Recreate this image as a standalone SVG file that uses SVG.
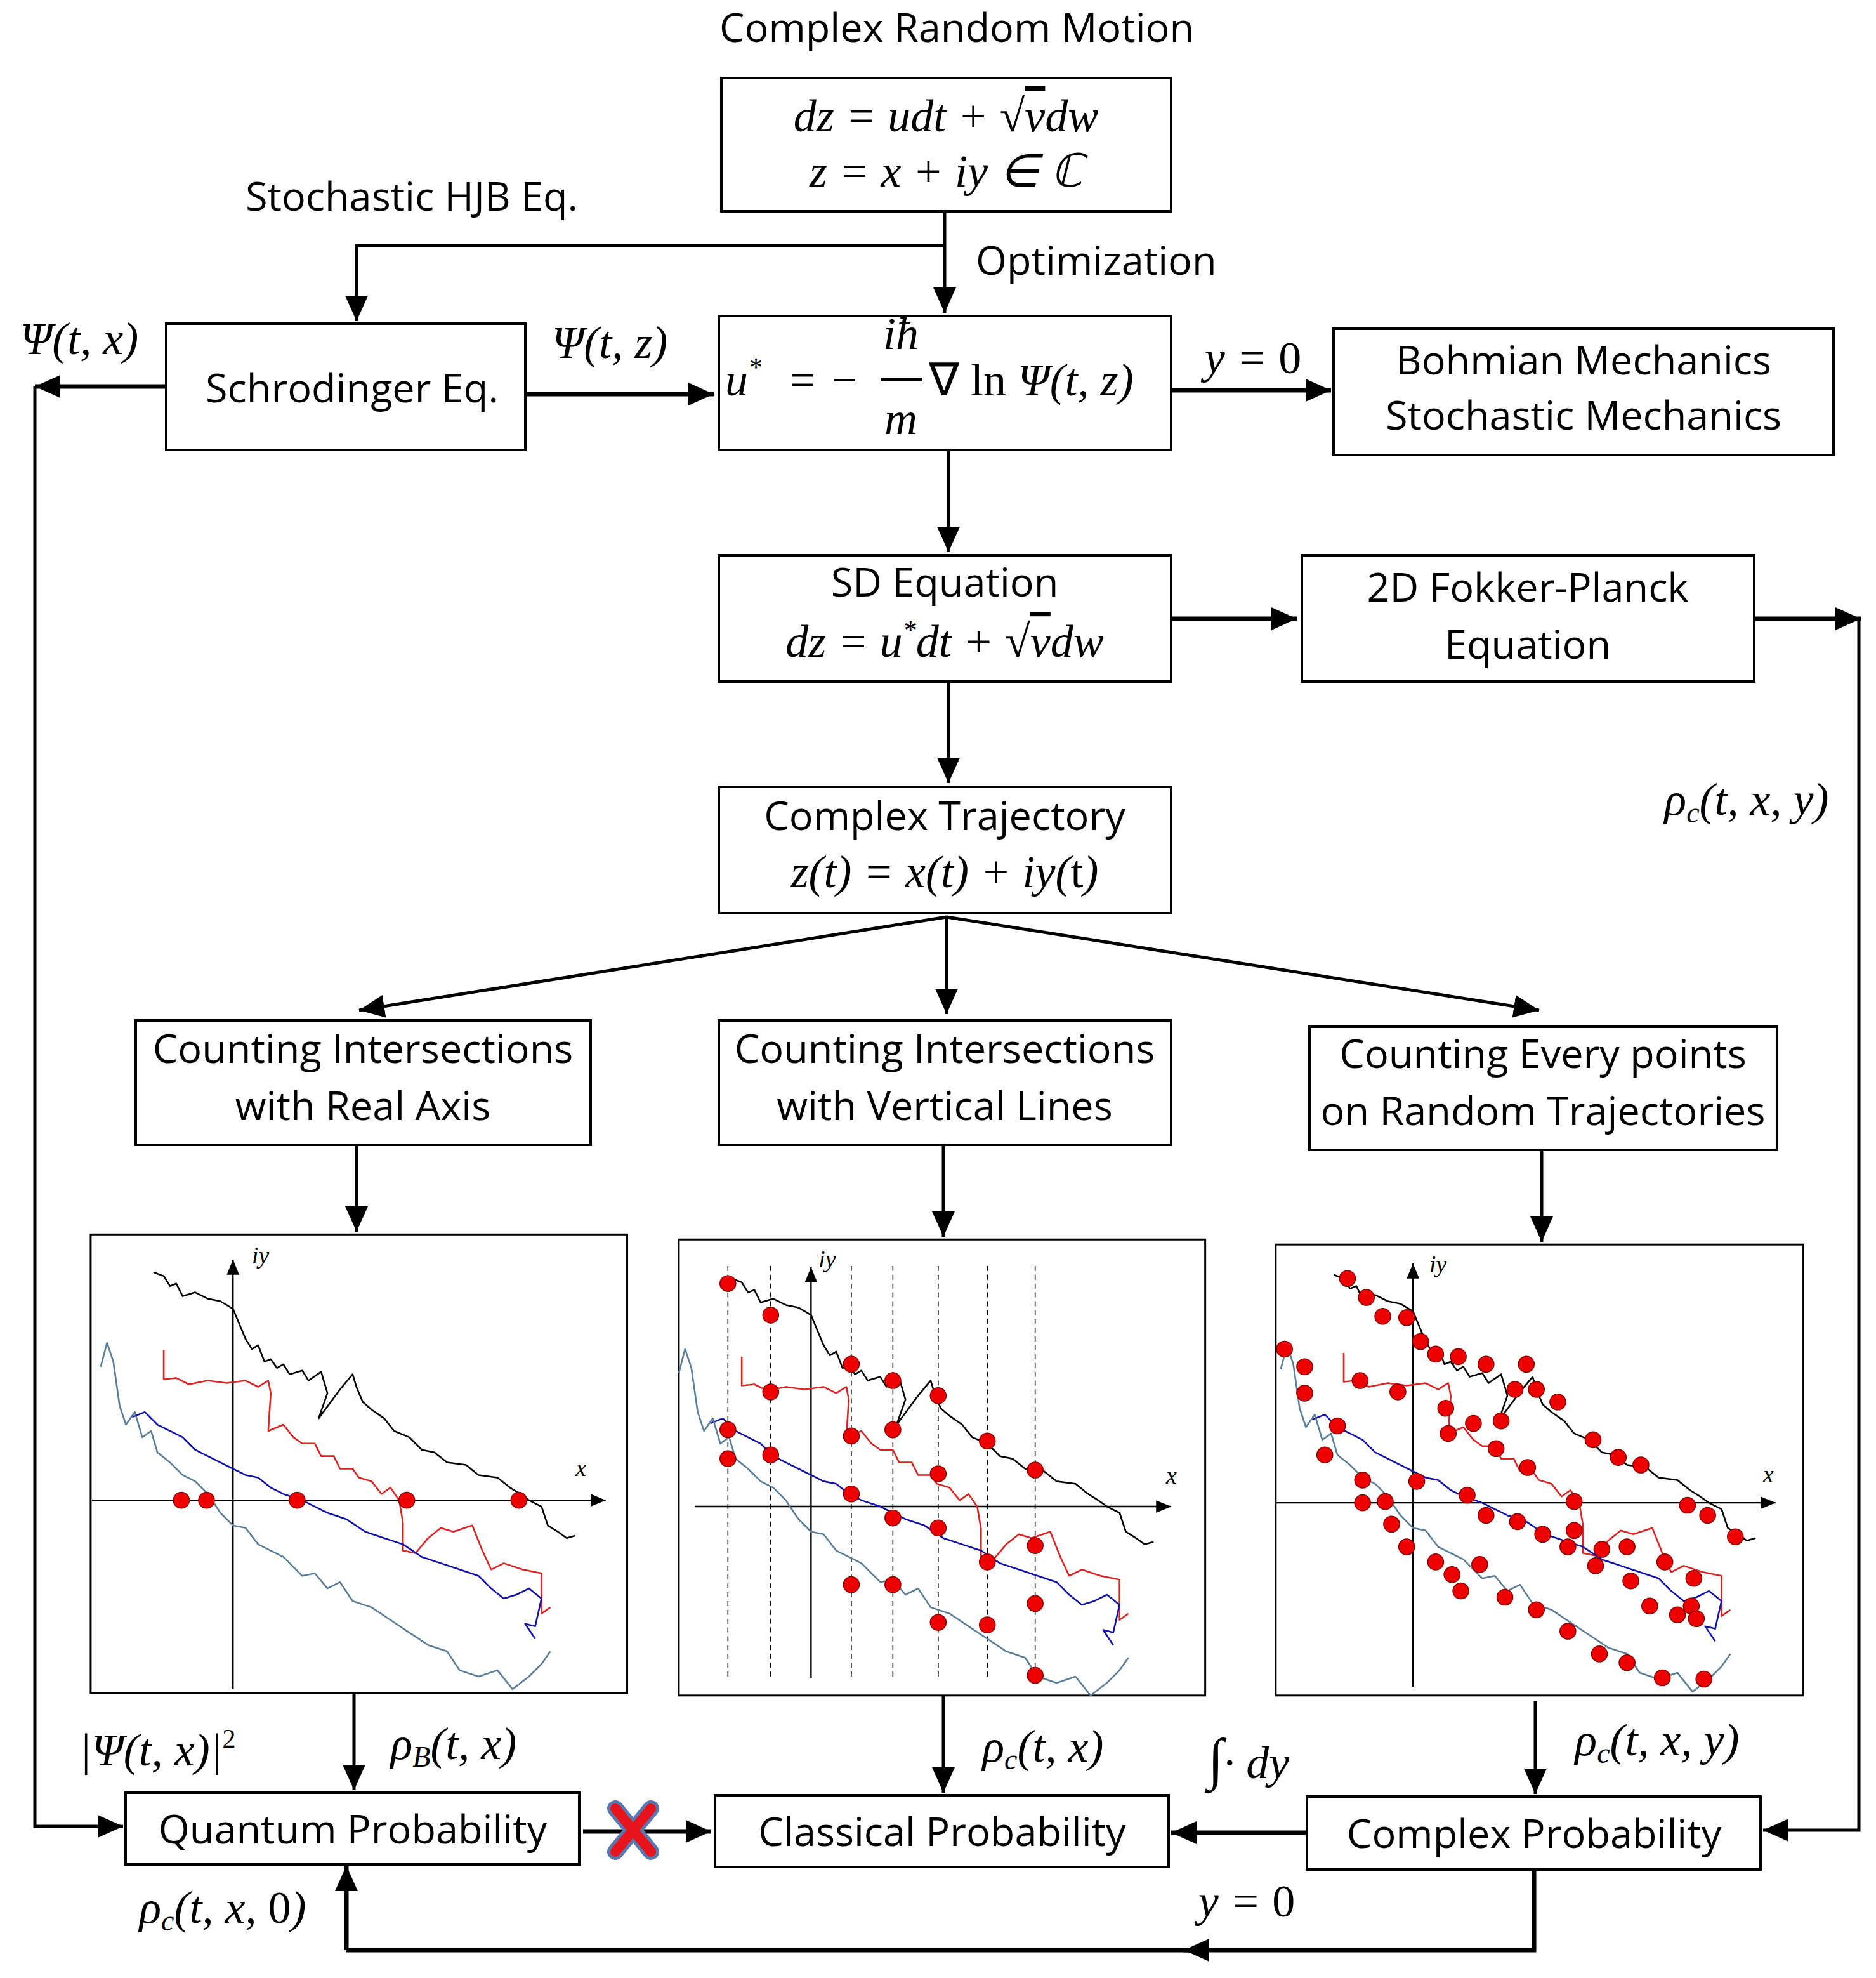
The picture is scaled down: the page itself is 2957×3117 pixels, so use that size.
<svg xmlns="http://www.w3.org/2000/svg" xmlns:xlink="http://www.w3.org/1999/xlink" width="2957" height="3117" viewBox="0 0 2957 3117">
<style>
.box{fill:#fff;stroke:#000;stroke-width:4}
.t{font-family:"Open Sans","Liberation Sans",sans-serif;font-size:63px;text-anchor:middle;fill:#000}
.m{font-family:"Liberation Serif",serif;font-style:italic;font-size:72px;fill:#000}
.c{stroke:#000;stroke-width:5;fill:none}
.ck{stroke:#000;stroke-width:7;fill:none}
.tr{fill:none;stroke-width:1.3;stroke-linejoin:round}
.ax{stroke:#000;stroke-width:1.2;fill:none}
.dot circle{r:6.3px}
.dot{fill:#e00;stroke:#800;stroke-width:0.8}
.pb{fill:#fff;stroke:#000;stroke-width:1.5}
</style>
<defs>
<marker id="a" markerUnits="userSpaceOnUse" markerWidth="44" markerHeight="40" refX="40" refY="20" orient="auto"><path d="M0,2 L40,20 L0,38 Z" fill="#000"/></marker>
<marker id="s" markerUnits="userSpaceOnUse" markerWidth="14" markerHeight="12" refX="12" refY="6" orient="auto"><path d="M0,1 L12,6 L0,11 Z" fill="#000"/></marker>
<g id="trajs">
<polyline class="tr" stroke="#000" points="-63,-181 -55,-178 -50,-170 -45,-172 -40,-162 -30,-165 -20,-160 -10,-158 0,-152 5,-140 10,-128 15,-120 20,-123 25,-110 30,-112 35,-105 40,-108 45,-100 55,-103 60,-95 70,-102 75,-85 68,-65 85,-88 95,-100 98,-90 103,-78 110,-72 120,-65 128,-55 140,-50 150,-40 160,-38 170,-30 185,-28 195,-20 210,-18 220,-10 228,-5 235,0 245,5 250,20 258,25 265,30 272,28"/>
<polyline class="tr" stroke="#d22" points="-55,-119 -55,-96 -45,-97 -35,-92 -20,-95 -5,-93 10,-95 20,-90 28,-95 30,-85 28,-55 40,-60 48,-50 55,-45 65,-45 70,-35 80,-35 85,-25 95,-25 100,-18 110,-15 118,-5 125,-10 132,0 135,18 135,40 145,42 155,30 165,22 175,25 190,20 198,40 205,55 215,50 230,55 245,58 245,90 252,85"/>
<polyline class="tr" stroke="#11a" points="-80,-66 -70,-70 -60,-60 -50,-55 -40,-50 -30,-40 -20,-35 -10,-30 0,-25 10,-20 20,-18 30,-10 40,-5 55,0 65,5 75,10 90,15 105,25 120,30 135,35 150,45 165,50 180,55 195,60 205,70 215,78 225,75 235,70 245,78 240,100 232,98 240,110"/>
<polyline class="tr" stroke="#5a7d9a" points="-105,-106 -100,-125 -95,-110 -90,-75 -85,-60 -78,-70 -72,-50 -65,-55 -60,-38 -50,-30 -40,-20 -30,-15 -20,-5 -10,10 0,20 10,22 20,35 30,40 40,45 55,60 65,58 75,70 85,65 95,80 110,85 125,95 140,105 155,115 170,120 180,135 195,140 210,135 222,150 235,140 245,130 252,120"/>
</g>
</defs>
<rect width="2957" height="3117" fill="#fff"/>

<g id="connectors">
<path class="c" d="M1489,333 V493" marker-end="url(#a)"/>
<path class="c" d="M1489,387 H562 V506" marker-end="url(#a)"/>
<path class="ck" d="M828,621 H1125" marker-end="url(#a)"/>
<path class="ck" d="M262,609 H55" marker-end="url(#a)"/>
<path class="c" d="M55,609 V2878 H194" marker-end="url(#a)"/>
<path class="ck" d="M1846,615 H2098" marker-end="url(#a)"/>
<path class="c" d="M1495,709 V870" marker-end="url(#a)"/>
<path class="ck" d="M1846,975 H2044" marker-end="url(#a)"/>
<path class="ck" d="M2765,975 H2933" marker-end="url(#a)"/>
<path class="c" d="M2930,975 V2884 H2779" marker-end="url(#a)"/>
<path class="c" d="M1495,1074 V1234" marker-end="url(#a)"/>
<path class="c" d="M1492,1445 L566,1592" marker-end="url(#a)"/>
<path class="c" d="M1492,1445 V1598" marker-end="url(#a)"/>
<path class="c" d="M1492,1445 L2426,1592" marker-end="url(#a)"/>
<path class="c" d="M562,1804 V1941" marker-end="url(#a)"/>
<path class="c" d="M1487,1804 V1949" marker-end="url(#a)"/>
<path class="c" d="M2430,1812 V1957" marker-end="url(#a)"/>
<path class="c" d="M558,2668 V2821" marker-end="url(#a)"/>
<path class="c" d="M1487,2672 V2825" marker-end="url(#a)"/>
<path class="c" d="M2420,2680 V2827" marker-end="url(#a)"/>
<path class="ck" d="M919,2886 H1121" marker-end="url(#a)"/>
<path class="ck" d="M2060,2888 H1846" marker-end="url(#a)"/>
<path class="ck" d="M2418,2946 V3073 H546"/>
<path class="ck" d="M1900,3073 H1866" marker-end="url(#a)"/>
<path class="ck" d="M546,3073 V2940" marker-end="url(#a)"/>
<g>
<path d="M970,2850 L1026,2918 M1026,2850 L970,2918" stroke="#5a78b0" stroke-width="26" stroke-linecap="round"/>
<path d="M970,2850 L1026,2918 M1026,2850 L970,2918" stroke="#e8141c" stroke-width="16" stroke-linecap="round"/>
</g>
</g>

<text class="t" x="1508" y="66" font-size="70">Complex Random Motion</text>
<text class="t" x="649" y="332" font-size="66">Stochastic HJB Eq.</text>
<text class="t" x="1538" y="433" font-size="66" style="text-anchor:start">Optimization</text>

<g id="n-crm">
<rect class="box" x="1137" y="123" width="709" height="210"/>
<text class="m" x="1491" y="207" text-anchor="middle">dz = udt + √<tspan text-decoration="overline">v</tspan>dw</text>
<text class="m" x="1491" y="294" text-anchor="middle">z = x + iy ∈ ℂ</text>
</g>
<g id="n-schro">
<rect class="box" x="262" y="510" width="566" height="199"/>
<text class="t" x="555" y="634" font-size="66">Schrodinger Eq.</text>
</g>
<g id="n-ustar">
<rect class="box" x="1133" y="498" width="713" height="211"/>
<text class="m" x="1143" y="623">u<tspan font-size="42" dy="-30">*</tspan></text>
<text class="m" x="1240" y="623">= −</text>
<text class="m" x="1420" y="550" text-anchor="middle">iħ</text>
<line x1="1388" y1="598" x2="1454" y2="598" stroke="#000" stroke-width="6"/>
<text class="m" x="1420" y="684" text-anchor="middle">m</text>
<text class="m" x="1464" y="623"><tspan font-style="normal">∇ ln</tspan> Ψ(t, z)</text>
</g>
<g id="n-bohm">
<rect class="box" x="2102" y="518" width="788" height="199"/>
<text class="t" x="2496" y="590" font-size="66">Bohmian Mechanics</text>
<text class="t" x="2496" y="677" font-size="66">Stochastic Mechanics</text>
</g>
<text class="m" x="125" y="558" text-anchor="middle" font-size="70">Ψ(t, x)</text>
<text class="m" x="961" y="564" text-anchor="middle" font-size="70">Ψ(t, z)</text>
<text class="m" x="1975" y="588" text-anchor="middle" font-size="70">y = <tspan font-style="normal">0</tspan></text>

<g id="n-sd">
<rect class="box" x="1133" y="875" width="713" height="199"/>
<text class="t" x="1489" y="940" font-size="66">SD Equation</text>
<text class="m" x="1489" y="1035" text-anchor="middle">dz = u<tspan font-size="42" dy="-28">*</tspan><tspan dy="28">dt + √</tspan><tspan text-decoration="overline">v</tspan>dw</text>
</g>
<g id="n-fp">
<rect class="box" x="2052" y="875" width="713" height="199"/>
<text class="t" x="2408" y="948" font-size="66">2D Fokker-Planck</text>
<text class="t" x="2408" y="1038" font-size="66">Equation</text>
</g>
<text class="m" x="2753" y="1284" text-anchor="middle" font-size="70">ρ<tspan font-size="46" dy="12">c</tspan><tspan dy="-12">(t, x, y)</tspan></text>

<g id="n-ct">
<rect class="box" x="1133" y="1240" width="713" height="199"/>
<text class="t" x="1489" y="1308" font-size="66">Complex Trajectory</text>
<text class="m" x="1489" y="1398" text-anchor="middle">z(t) = x(t) + iy(<tspan font-style="normal">t</tspan>)</text>
</g>
<g id="n-c1">
<rect class="box" x="214" y="1608" width="717" height="196"/>
<text class="t" x="572" y="1675">Counting Intersections</text>
<text class="t" x="572" y="1765">with Real Axis</text>
</g>
<g id="n-c2">
<rect class="box" x="1133" y="1608" width="713" height="196"/>
<text class="t" x="1489" y="1675">Counting Intersections</text>
<text class="t" x="1489" y="1765">with Vertical Lines</text>
</g>
<g id="n-c3">
<rect class="box" x="2064" y="1618" width="737" height="194"/>
<text class="t" x="2432" y="1683">Counting Every points</text>
<text class="t" x="2432" y="1773">on Random Trajectories</text>
</g>

<g id="plots" transform="scale(1.985)">
<g id="p1">
<rect class="pb" x="72" y="980" width="426" height="364"/>
<g transform="translate(185,1191)">
<line class="ax" x1="-112" y1="0" x2="296" y2="0" marker-end="url(#s)"/>
<line class="ax" x1="0" y1="150" x2="0" y2="-191" marker-end="url(#s)"/>
<use xlink:href="#trajs"/>
<g class="dot"><circle cx="-41" cy="0" r="6.3"/><circle cx="-21" cy="0" r="6.3"/><circle cx="51" cy="0" r="6.3"/><circle cx="138" cy="0" r="6.3"/><circle cx="227" cy="0" r="6.3"/></g>
</g>
<text x="200" y="1003" font-family="Liberation Serif" font-style="italic" font-size="19">iy</text>
<text x="457" y="1172" font-family="Liberation Serif" font-style="italic" font-size="19">x</text>
</g>
<g id="p2">
<rect class="pb" x="539" y="984" width="418" height="362"/>
<g stroke="#000" stroke-width="0.8" stroke-dasharray="4,3"><line x1="578" y1="1005" x2="578" y2="1332"/><line x1="612" y1="1005" x2="612" y2="1332"/><line x1="676" y1="1005" x2="676" y2="1332"/><line x1="709" y1="1005" x2="709" y2="1332"/><line x1="745" y1="1005" x2="745" y2="1332"/><line x1="784" y1="1005" x2="784" y2="1332"/><line x1="822" y1="1005" x2="822" y2="1332"/></g>
<g transform="translate(644,1196)">
<line class="ax" x1="-92" y1="0" x2="286" y2="0" marker-end="url(#s)"/>
<line class="ax" x1="0" y1="136" x2="0" y2="-190" marker-end="url(#s)"/>
<use xlink:href="#trajs"/>
</g>
<g class="dot"><circle cx="578" cy="1019" r="6.3"/><circle cx="612" cy="1044" r="6.3"/><circle cx="676" cy="1083" r="6.3"/><circle cx="709" cy="1096" r="6.3"/><circle cx="745" cy="1108" r="6.3"/><circle cx="784" cy="1144" r="6.3"/><circle cx="822" cy="1167" r="6.3"/><circle cx="612" cy="1105" r="6.3"/><circle cx="676" cy="1140" r="6.3"/><circle cx="709" cy="1135" r="6.3"/><circle cx="745" cy="1170" r="6.3"/><circle cx="784" cy="1240" r="6.3"/><circle cx="822" cy="1227" r="6.3"/><circle cx="578" cy="1135" r="6.3"/><circle cx="612" cy="1155" r="6.3"/><circle cx="676" cy="1186" r="6.3"/><circle cx="709" cy="1205" r="6.3"/><circle cx="745" cy="1213" r="6.3"/><circle cx="822" cy="1273" r="6.3"/><circle cx="578" cy="1158" r="6.3"/><circle cx="676" cy="1258" r="6.3"/><circle cx="709" cy="1258" r="6.3"/><circle cx="745" cy="1288" r="6.3"/><circle cx="784" cy="1290" r="6.3"/><circle cx="822" cy="1330" r="6.3"/></g>
<text x="650" y="1006" font-family="Liberation Serif" font-style="italic" font-size="19">iy</text>
<text x="926" y="1178" font-family="Liberation Serif" font-style="italic" font-size="19">x</text>
</g>
<g id="p3">
<rect class="pb" x="1013" y="988" width="419" height="358"/>
<g transform="translate(1122,1193)">
<line class="ax" x1="-109" y1="0" x2="288" y2="0" marker-end="url(#s)"/>
<line class="ax" x1="0" y1="146" x2="0" y2="-190" marker-end="url(#s)"/>
<use xlink:href="#trajs"/>
</g>
<g class="dot"><circle cx="1070" cy="1015" r="6.3"/><circle cx="1085" cy="1030" r="6.3"/><circle cx="1098" cy="1045" r="6.3"/><circle cx="1117" cy="1046" r="6.3"/><circle cx="1128" cy="1065" r="6.3"/><circle cx="1140" cy="1075" r="6.3"/><circle cx="1158" cy="1077" r="6.3"/><circle cx="1180" cy="1083" r="6.3"/><circle cx="1212" cy="1083" r="6.3"/><circle cx="1203" cy="1103" r="6.3"/><circle cx="1220" cy="1103" r="6.3"/><circle cx="1237" cy="1113" r="6.3"/><circle cx="1265" cy="1143" r="6.3"/><circle cx="1285" cy="1157" r="6.3"/><circle cx="1303" cy="1163" r="6.3"/><circle cx="1340" cy="1195" r="6.3"/><circle cx="1356" cy="1203" r="6.3"/><circle cx="1378" cy="1220" r="6.3"/><circle cx="1080" cy="1096" r="6.3"/><circle cx="1110" cy="1105" r="6.3"/><circle cx="1148" cy="1118" r="6.3"/><circle cx="1150" cy="1138" r="6.3"/><circle cx="1170" cy="1130" r="6.3"/><circle cx="1192" cy="1128" r="6.3"/><circle cx="1188" cy="1150" r="6.3"/><circle cx="1213" cy="1165" r="6.3"/><circle cx="1250" cy="1192" r="6.3"/><circle cx="1250" cy="1215" r="6.3"/><circle cx="1272" cy="1230" r="6.3"/><circle cx="1292" cy="1228" r="6.3"/><circle cx="1322" cy="1240" r="6.3"/><circle cx="1345" cy="1253" r="6.3"/><circle cx="1343" cy="1275" r="6.3"/><circle cx="1020" cy="1071" r="6.3"/><circle cx="1036" cy="1085" r="6.3"/><circle cx="1036" cy="1106" r="6.3"/><circle cx="1062" cy="1132" r="6.3"/><circle cx="1052" cy="1155" r="6.3"/><circle cx="1082" cy="1175" r="6.3"/><circle cx="1100" cy="1192" r="6.3"/><circle cx="1125" cy="1176" r="6.3"/><circle cx="1165" cy="1187" r="6.3"/><circle cx="1180" cy="1203" r="6.3"/><circle cx="1205" cy="1208" r="6.3"/><circle cx="1225" cy="1218" r="6.3"/><circle cx="1245" cy="1228" r="6.3"/><circle cx="1267" cy="1243" r="6.3"/><circle cx="1295" cy="1255" r="6.3"/><circle cx="1310" cy="1275" r="6.3"/><circle cx="1332" cy="1282" r="6.3"/><circle cx="1347" cy="1285" r="6.3"/><circle cx="1082" cy="1193" r="6.3"/><circle cx="1105" cy="1210" r="6.3"/><circle cx="1117" cy="1228" r="6.3"/><circle cx="1140" cy="1240" r="6.3"/><circle cx="1153" cy="1250" r="6.3"/><circle cx="1175" cy="1242" r="6.3"/><circle cx="1160" cy="1263" r="6.3"/><circle cx="1195" cy="1268" r="6.3"/><circle cx="1220" cy="1278" r="6.3"/><circle cx="1245" cy="1295" r="6.3"/><circle cx="1270" cy="1313" r="6.3"/><circle cx="1292" cy="1320" r="6.3"/><circle cx="1320" cy="1332" r="6.3"/><circle cx="1353" cy="1333" r="6.3"/></g>
<text x="1135" y="1010" font-family="Liberation Serif" font-style="italic" font-size="19">iy</text>
<text x="1400" y="1177" font-family="Liberation Serif" font-style="italic" font-size="19">x</text>
</g>
</g>

<text class="m" x="248" y="2782" text-anchor="middle" font-size="70">|Ψ(t, x)|<tspan font-size="42" font-style="normal" dy="-28">2</tspan></text>
<text class="m" x="715" y="2772" text-anchor="middle" font-size="70">ρ<tspan font-size="46" dy="12">B</tspan><tspan dy="-12">(t, x)</tspan></text>
<text class="m" x="1644" y="2776" text-anchor="middle" font-size="70">ρ<tspan font-size="46" dy="12">c</tspan><tspan dy="-12">(t, x)</tspan></text>
<text class="m" x="1968" y="2802" text-anchor="middle" font-size="70"><tspan font-style="normal" font-size="90">∫</tspan>· dy</text>
<text class="m" x="2612" y="2766" text-anchor="middle" font-size="70">ρ<tspan font-size="46" dy="12">c</tspan><tspan dy="-12">(t, x, y)</tspan></text>
<text class="m" x="1965" y="3020" text-anchor="middle" font-size="70">y = <tspan font-style="normal">0</tspan></text>
<text class="m" x="351" y="3030" text-anchor="middle" font-size="70">ρ<tspan font-size="46" dy="12">c</tspan><tspan dy="-12">(t, x, </tspan><tspan font-style="normal">0</tspan>)</text>

<g id="n-qp">
<rect class="box" x="198" y="2825" width="715" height="113"/>
<text class="t" x="556" y="2905" font-size="66">Quantum Probability</text>
</g>
<g id="n-cp">
<rect class="box" x="1127" y="2829" width="715" height="113"/>
<text class="t" x="1485" y="2909" font-size="66">Classical Probability</text>
</g>
<g id="n-xp">
<rect class="box" x="2060" y="2831" width="715" height="115"/>
<text class="t" x="2418" y="2912" font-size="66">Complex Probability</text>
</g>
</svg>
